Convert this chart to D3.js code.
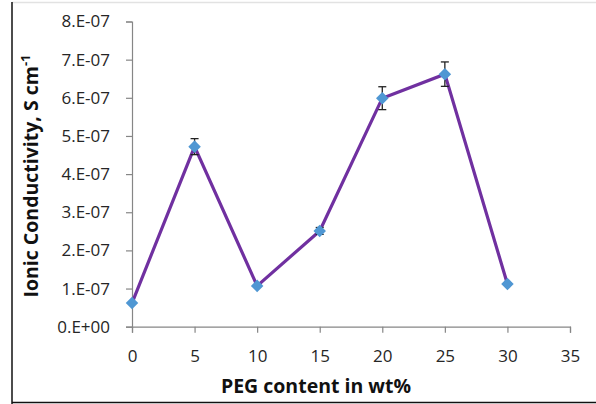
<!DOCTYPE html>
<html>
<head>
<meta charset="utf-8">
<script src="https://cdn.jsdelivr.net/npm/d3@7"></script>
<style>
  body { margin: 0; background: #fff; }
  svg text { font-family: "Open Sans", sans-serif; }
</style>
</head>
<body>
<div id="chart"></div>
<script>
// PEG content (wt%) vs ionic conductivity (S/cm)
var peg = [0, 5, 10, 15, 20, 25, 30];
var conductivity = [0.62e-7, 4.72e-7, 1.07e-7, 2.51e-7, 5.99e-7, 6.62e-7, 1.12e-7];
var errors = [0.02e-7, 0.21e-7, 0.03e-7, 0.09e-7, 0.30e-7, 0.32e-7, 0.03e-7];
var xTicks = [0, 5, 10, 15, 20, 25, 30, 35];
var yTicks = [0, 1e-7, 2e-7, 3e-7, 4e-7, 5e-7, 6e-7, 7e-7, 8e-7];

var W = 596, H = 404;
var margin = {top: 21.5, right: 26, bottom: 77.3, left: 132};
var width = W - margin.left - margin.right,
    height = H - margin.top - margin.bottom;

var root = d3.select("#chart").append("svg")
    .attr("width", W)
    .attr("height", H);

// frame lines of the pasted figure
root.append("line").attr("x1", 12).attr("x2", 596).attr("y1", 2.5).attr("y2", 2.5)
    .attr("stroke", "#e2e2e2").attr("stroke-width", 1.5);
root.append("line").attr("x1", 12).attr("x2", 12).attr("y1", 2).attr("y2", 404)
    .attr("stroke", "#111").attr("stroke-width", 1.5);
root.append("line").attr("x1", 12).attr("x2", 596).attr("y1", 402.5).attr("y2", 402.5)
    .attr("stroke", "#111").attr("stroke-width", 1.5);

var svg = root.append("g")
    .attr("transform", "translate(" + margin.left + "," + margin.top + ")");

var x = d3.scaleLinear().domain([0, 35]).range([0, width]);
var y = d3.scaleLinear().domain([0, 8e-7]).range([height, 0]);

function yFmt(d) {
  if (d === 0) return "0.E+00";
  return Math.round(d * 1e7) + ".E-07";
}

var xAxis = svg.append("g")
    .attr("transform", "translate(0," + height + ")")
    .call(d3.axisBottom(x).tickValues(xTicks).tickSize(6).tickPadding(17).tickFormat(d3.format("d")));
var yAxis = svg.append("g")
    .call(d3.axisLeft(y).tickValues(yTicks).tickSize(6).tickPadding(16).tickFormat(yFmt));

[xAxis, yAxis].forEach(function(a) {
  a.select(".domain").attr("stroke", "#868686").attr("stroke-width", 1.2);
  a.selectAll(".tick line").attr("stroke", "#868686").attr("stroke-width", 1.2);
  a.selectAll(".tick text").attr("fill", "#262626").attr("font-size", 17);
});

var pts = peg.map(function(p, i) { return {x: p, y: conductivity[i], e: errors[i]}; });

var line = d3.line()
    .x(function(d) { return x(d.x); })
    .y(function(d) { return y(d.y); });

svg.append("path")
    .datum(pts)
    .attr("fill", "none")
    .attr("stroke", "#7030a0")
    .attr("stroke-width", 3.2)
    .attr("d", line);

// error bars
var eb = svg.append("g").attr("stroke", "#222").attr("stroke-width", 1.3);
pts.forEach(function(d) {
  var cx = x(d.x);
  eb.append("line").attr("x1", cx).attr("x2", cx)
      .attr("y1", y(d.y + d.e)).attr("y2", y(d.y - d.e));
  eb.append("line").attr("x1", cx - 4).attr("x2", cx + 4)
      .attr("y1", y(d.y + d.e)).attr("y2", y(d.y + d.e));
  eb.append("line").attr("x1", cx - 4).attr("x2", cx + 4)
      .attr("y1", y(d.y - d.e)).attr("y2", y(d.y - d.e));
});

svg.selectAll(".marker")
    .data(pts)
    .enter().append("path")
    .attr("class", "marker")
    .attr("d", d3.symbol(d3.symbolDiamond2, 100))
    .attr("transform", function(d) { return "translate(" + x(d.x) + "," + y(d.y) + ")"; })
    .attr("fill", "#4f97d3");

// axis titles
root.append("text")
    .attr("x", 316)
    .attr("y", 393)
    .attr("text-anchor", "middle")
    .attr("font-size", 19.5)
    .attr("font-weight", "bold")
    .attr("fill", "#111")
    .text("PEG content in wt%");

var yt = root.append("text")
    .attr("transform", "translate(38,176) rotate(-90)")
    .attr("text-anchor", "middle")
    .attr("font-size", 19.5)
    .attr("font-weight", "bold")
    .attr("fill", "#111");
yt.append("tspan").text("Ionic Conductivity, S cm");
yt.append("tspan").attr("dy", -8).attr("font-size", 13).text("-1");
</script>
</body>
</html>
